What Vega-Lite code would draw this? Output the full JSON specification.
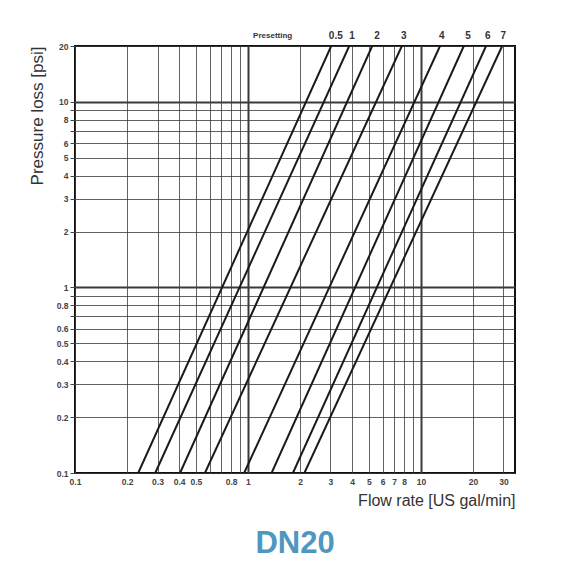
{
  "$schema": "https://vega.github.io/schema/vega-lite/v6.json",
  "width": 440,
  "height": 427,
  "autosize": "none",
  "padding": {"left": 75, "top": 46, "right": 58, "bottom": 99},
  "background": "white",
  "config": {
    "view": {"stroke": "#111", "strokeWidth": 2},
    "font": "Liberation Sans"
  },
  "title": {
    "text": "DN20",
    "orient": "bottom",
    "anchor": "middle",
    "fontSize": 31,
    "fontWeight": "bold",
    "font": "Liberation Sans",
    "color": "#5097c0",
    "offset": 20
  },
  "datasets": {
    "curves": [
      {"preset": "0.5", "q": 0.232, "p": 0.1}, {"preset": "0.5", "q": 3.03, "p": 20},
      {"preset": "1", "q": 0.291, "p": 0.1}, {"preset": "1", "q": 3.85, "p": 20},
      {"preset": "2", "q": 0.405, "p": 0.1}, {"preset": "2", "q": 5.23, "p": 20},
      {"preset": "3", "q": 0.564, "p": 0.1}, {"preset": "3", "q": 7.76, "p": 20},
      {"preset": "4", "q": 0.951, "p": 0.1}, {"preset": "4", "q": 12.9, "p": 20},
      {"preset": "5", "q": 1.37, "p": 0.1}, {"preset": "5", "q": 17.7, "p": 20},
      {"preset": "6", "q": 1.82, "p": 0.1}, {"preset": "6", "q": 23.8, "p": 20},
      {"preset": "7", "q": 2.12, "p": 0.1}, {"preset": "7", "q": 29.5, "p": 20}
    ],
    "labels": [
      {"label": "0.5", "q": 3.22, "p": 20},
      {"label": "1", "q": 4.0, "p": 20},
      {"label": "2", "q": 5.57, "p": 20},
      {"label": "3", "q": 7.95, "p": 20},
      {"label": "4", "q": 13.2, "p": 20},
      {"label": "5", "q": 18.7, "p": 20},
      {"label": "6", "q": 24.4, "p": 20},
      {"label": "7", "q": 29.9, "p": 20}
    ],
    "heading": [
      {"label": "Presetting", "q": 1.39, "p": 20}
    ]
  },
  "layer": [
    {
      "data": {"name": "curves"},
      "mark": {"type": "line", "color": "#1a1a1a", "strokeWidth": 2, "clip": true},
      "encoding": {
        "x": {
          "field": "q", "type": "quantitative",
          "scale": {"type": "log", "domain": [0.1, 35], "nice": false},
          "axis": {
            "title": "Flow rate [US gal/min]",
            "values": [0.1, 0.2, 0.3, 0.4, 0.5, 0.6, 0.7, 0.8, 0.9, 1, 2, 3, 4, 5, 6, 7, 8, 9, 10, 20, 30],
            "format": "~g",
            "labelExpr": "indexof([0.6, 0.7, 0.9, 9], datum.value) >= 0 ? '' : datum.label",
            "grid": true,
            "gridColor": "#3a3a3a",
            "gridWidth": {"condition": {"test": "datum.value == 1 || datum.value == 10", "value": 2}, "value": 0.8},
            "domain": false,
            "ticks": false,
            "labelPadding": 4,
            "labelFont": "Liberation Sans",
            "labelFontSize": 8.5,
            "labelFontWeight": "bold",
            "labelColor": "#444",
            "labelFlush": false,
            "labelOverlap": false,
            "titleFont": "Liberation Sans",
            "titleFontSize": 16,
            "titleFontWeight": "normal",
            "titleColor": "#333",
            "titleAnchor": "end",
            "titlePadding": 7
          }
        },
        "y": {
          "field": "p", "type": "quantitative",
          "scale": {"type": "log", "domain": [0.1, 20], "nice": false},
          "axis": {
            "title": "Pressure loss [psi]",
            "values": [0.1, 0.2, 0.3, 0.4, 0.5, 0.6, 0.7, 0.8, 0.9, 1, 2, 3, 4, 5, 6, 7, 8, 9, 10, 20],
            "format": "~g",
            "labelExpr": "indexof([0.7, 0.9, 7, 9], datum.value) >= 0 ? '' : datum.label",
            "grid": true,
            "gridColor": "#3a3a3a",
            "gridWidth": {"condition": {"test": "datum.value == 1 || datum.value == 10", "value": 2}, "value": 0.8},
            "domain": false,
            "ticks": true,
            "tickSize": 5,
            "tickColor": "#444",
            "labelPadding": 2,
            "labelFont": "Liberation Sans",
            "labelFontSize": 8.5,
            "labelFontWeight": "bold",
            "labelColor": "#444",
            "labelFlush": false,
            "labelOverlap": false,
            "titleFont": "Liberation Sans",
            "titleFontSize": 17,
            "titleFontWeight": "normal",
            "titleColor": "#333",
            "titleAnchor": "end",
            "titlePadding": 10
          }
        },
        "detail": {"field": "preset", "type": "nominal"}
      }
    },
    {
      "data": {"name": "labels"},
      "mark": {"type": "text", "dy": -10, "fontSize": 10, "fontWeight": "bold", "color": "#333", "font": "Liberation Sans"},
      "encoding": {
        "x": {"field": "q", "type": "quantitative"},
        "y": {"field": "p", "type": "quantitative"},
        "text": {"field": "label", "type": "nominal"}
      }
    },
    {
      "data": {"name": "heading"},
      "mark": {"type": "text", "dy": -10, "fontSize": 8, "fontWeight": "bold", "color": "#333", "font": "Liberation Sans"},
      "encoding": {
        "x": {"field": "q", "type": "quantitative"},
        "y": {"field": "p", "type": "quantitative"},
        "text": {"field": "label", "type": "nominal"}
      }
    }
  ]
}
